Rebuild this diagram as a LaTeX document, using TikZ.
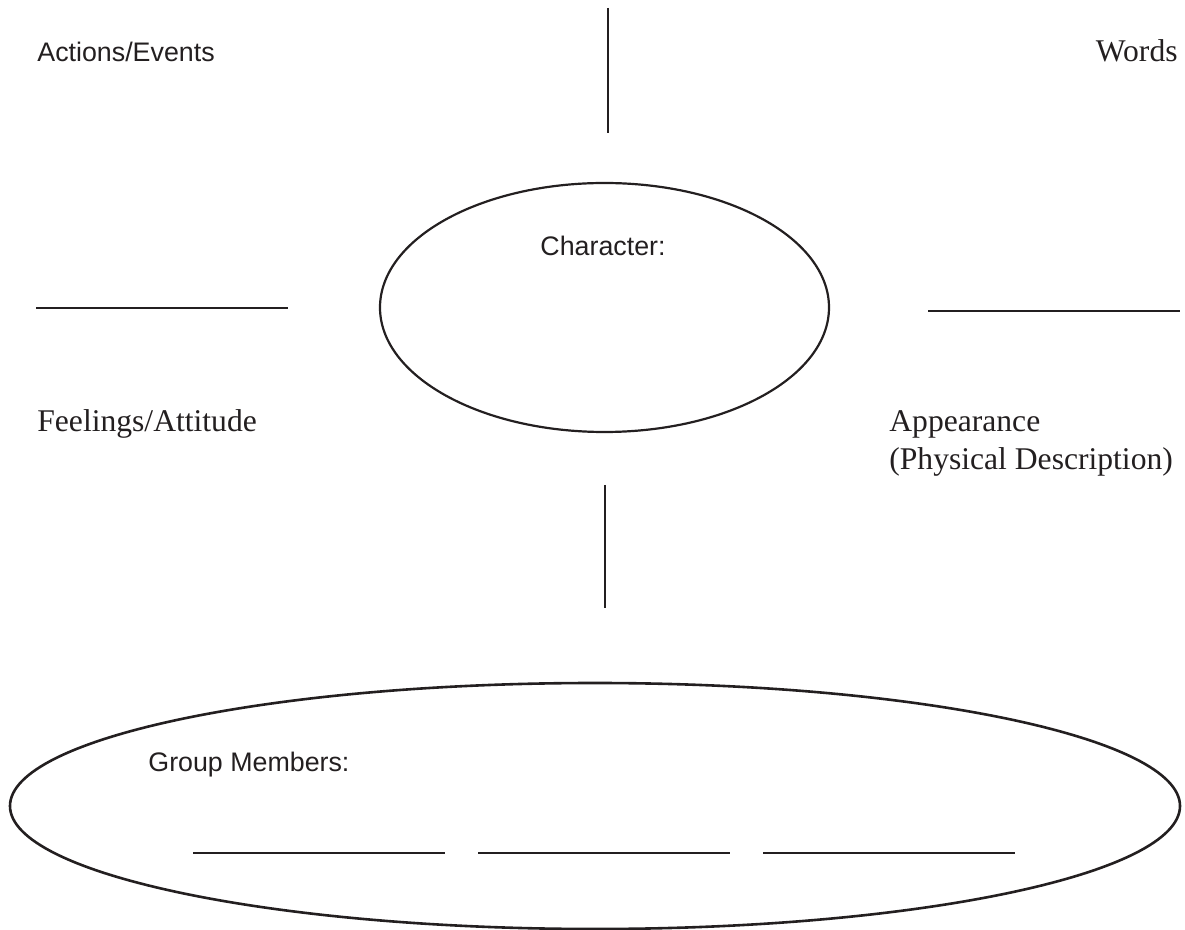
\documentclass[tikz,border=0pt]{standalone}
\usepackage{fontspec}
\setmainfont{Liberation Serif}
\setsansfont{Liberation Sans}
\usetikzlibrary{shapes.geometric}
\definecolor{ink}{HTML}{231F20}
\tikzset{
    sanslabel/.style={anchor=base west, inner sep=0pt, text=ink, font=\sffamily\fontsize{13.4}{16}\selectfont},
    seriflabel/.style={anchor=base west, inner sep=0pt, text=ink, font=\fontsize{15.8}{19}\selectfont},
    blankline/.style={ink, line width=1.3pt},
    oval/.style={ellipse, draw=ink, line width=1.1pt, inner sep=0pt}
}
\begin{document}
\begin{tikzpicture}[x=0.5pt,y=-0.5pt]

    \useasboundingbox (0,0) rectangle (1185,930);

    \node[sanslabel] (actions) at (37,62) {Actions/Events};
    \node[seriflabel, anchor=base east] (words) at (1178,62) {Words};

    \draw[blankline] (608,8) -- (608,133);

    \node[oval, minimum width=224.5pt, minimum height=124.5pt] (character) at (604.5,307.5) {};
    \node[sanslabel, anchor=base] (charlabel) at (603,256) {Character:};

    \draw[blankline] (36,308) -- (288,308);
    \draw[blankline] (928,311) -- (1180,311);

    \node[seriflabel] (feelings) at (37,432) {Feelings/Attitude};
    \node[seriflabel, align=left, anchor=north west] (appearance) at (889,410) {Appearance\\(Physical Description)};

    \draw[blankline] (605,485) -- (605,608);

    \node[oval, line width=1.3pt, minimum width=585pt, minimum height=123pt] (group) at (595,806) {};
    \node[sanslabel] (grouplabel) at (148,772) {Group Members:};

    \foreach \x in {193,478,763}
        \draw[blankline] (\x,853) -- ++(252,0);

\end{tikzpicture}
\end{document}
